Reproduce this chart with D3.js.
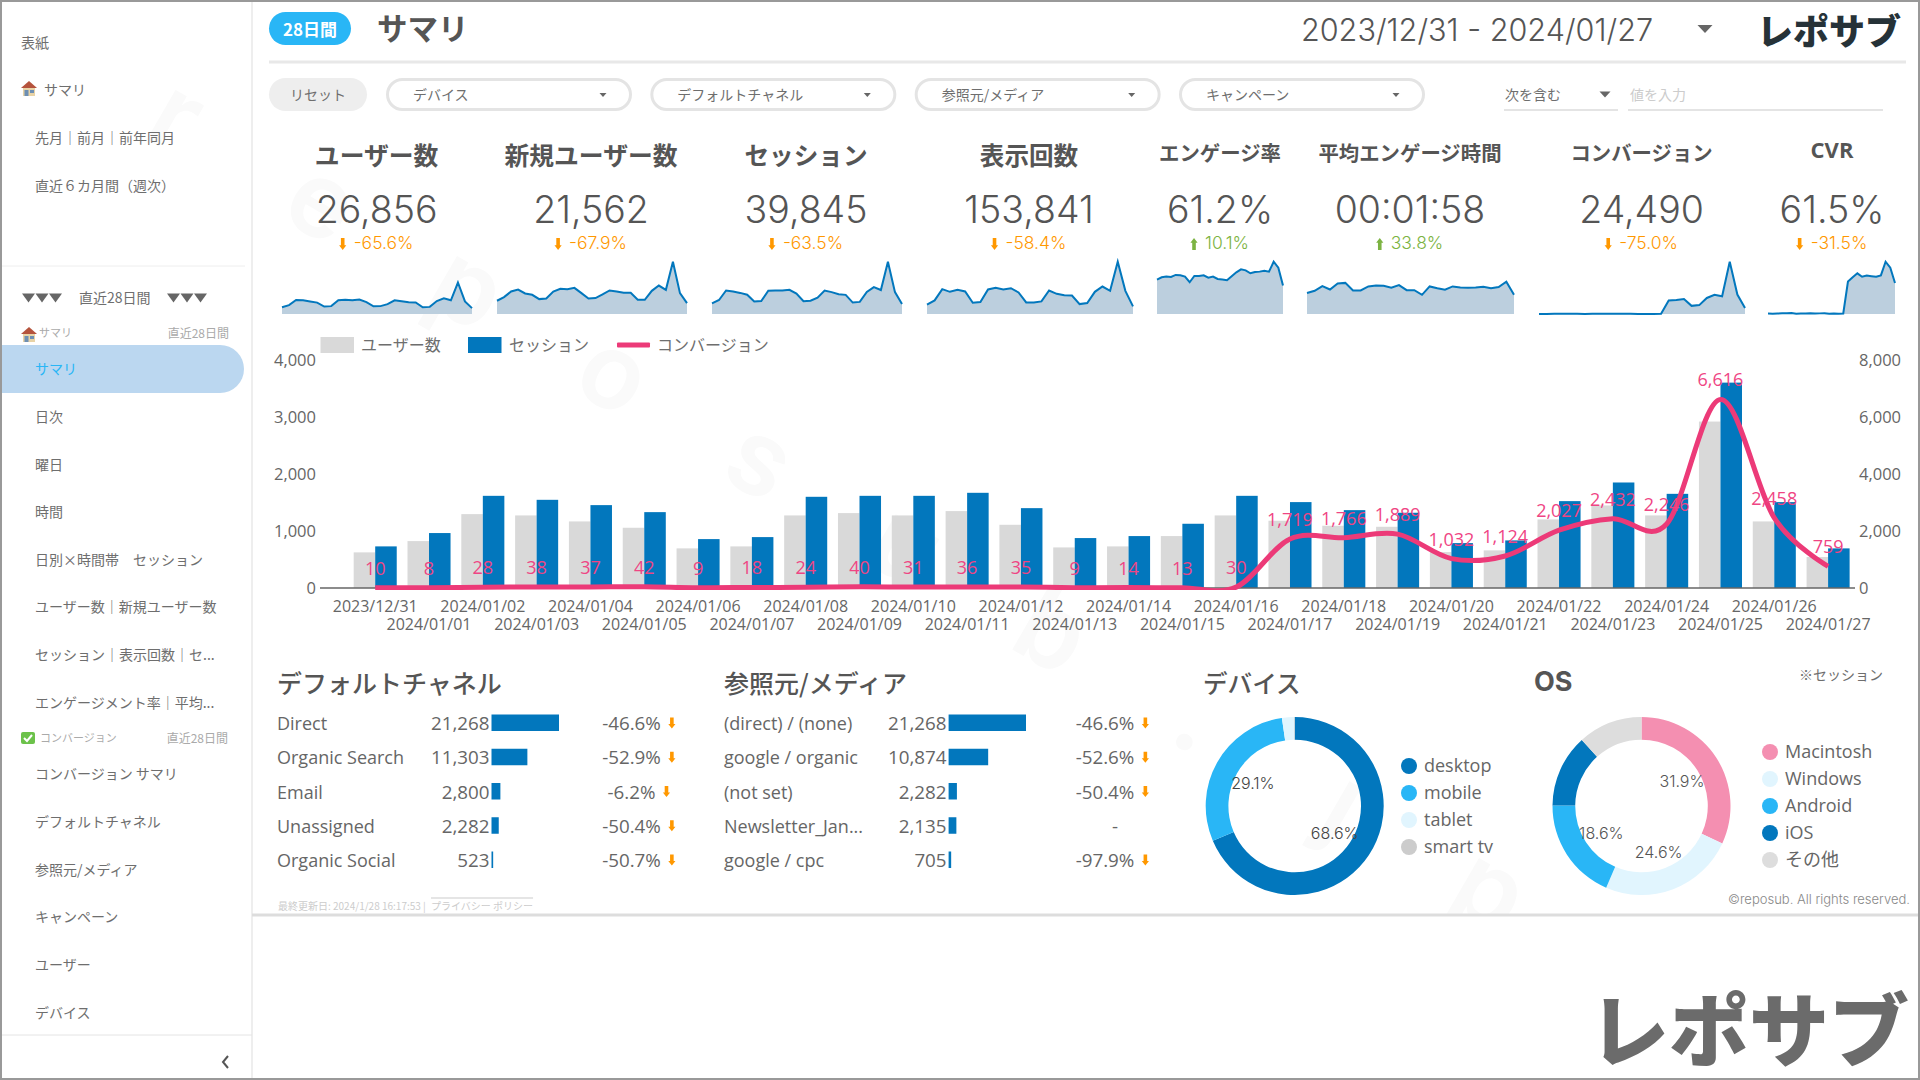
<!DOCTYPE html>
<html lang="ja">
<head>
<meta charset="utf-8">
<title>レポサブ サマリ</title>
<script src="https://cdn.jsdelivr.net/npm/d3@7.9.0/dist/d3.min.js"></script>
<style>
  html, body { margin: 0; padding: 0; background: #fff; overflow: hidden; }
  svg { display: block; }
  text { font-family: "Noto Sans CJK JP", "Noto Sans", sans-serif; fill: #6e6e6e; dominant-baseline: central; }
  .latin { font-family: "Open Sans", "Noto Sans CJK JP", sans-serif; fill: #666; }
  .light { font-family: Inter, "Noto Sans", sans-serif; font-weight: 300; }
</style>
</head>
<body>
<svg id="page" width="1920" height="1080"></svg>
<script>
// chart data
const dates = ['2023/12/31','2024/01/01','2024/01/02','2024/01/03','2024/01/04','2024/01/05','2024/01/06',
  '2024/01/07','2024/01/08','2024/01/09','2024/01/10','2024/01/11','2024/01/12','2024/01/13','2024/01/14',
  '2024/01/15','2024/01/16','2024/01/17','2024/01/18','2024/01/19','2024/01/20','2024/01/21','2024/01/22',
  '2024/01/23','2024/01/24','2024/01/25','2024/01/26','2024/01/27'];
const users = [625,823,1296,1273,1168,1057,695,730,1273,1314,1273,1349,1109,712,730,911,1273,1180,1092,1074,630,660,1203,1448,1273,2920,1168,543];
const sessions = [730,964,1617,1547,1454,1331,858,893,1600,1617,1617,1670,1401,876,911,1127,1617,1507,1366,1320,788,835,1524,1851,1652,3603,1507,695];
const conversions = [10,8,28,38,37,42,9,18,24,40,31,36,35,9,14,13,30,1719,1766,1889,1032,1124,2027,2432,2246,6616,2458,759];
const newUsers = [480,612,816,888,744,696,540,564,816,912,900,948,756,564,576,708,852,816,768,768,516,516,840,1032,876,1896,756,396];
const pageViews = [2565,3756,6870,6137,6687,6229,3114,3298,6778,7236,6778,7145,5954,3206,3206,3481,6504,5588,5221,5130,2748,3023,6137,7603,6412,14473,6412,2107];
const engagementRate = [54.1,57.7,58.8,58.2,61.4,60.8,58.8,49.9,59.8,59.8,60.8,57.2,58.8,55.1,54.1,53.0,59.3,65.5,70.2,68.6,64.0,66.0,66.6,68.1,66.6,82.2,72.8,44.7];
const engagementTime = [95,105,126,111,138,141,107,107,125,129,128,119,131,108,108,87,125,117,110,125,120,119,120,123,117,122,146,87];
const cvr = [1.4,0.8,1.7,2.5,2.5,3.2,1.0,2.0,1.5,2.5,1.9,2.2,2.5,1.0,1.5,1.2,1.9,114,129,143,131,135,133,131,136,184,163,109];

const kpiNames = ['ユーザー数','新規ユーザー数','セッション','表示回数','エンゲージ率','平均エンゲージ時間','コンバージョン','CVR'];
const kpiValues = ['26,856','21,562','39,845','153,841','61.2%','00:01:58','24,490','61.5%'];
const kpiDeltas = ['-65.6%','-67.9%','-63.5%','-58.4%','10.1%','33.8%','-75.0%','-31.5%'];
const kpiSeries = [users,newUsers,sessions,pageViews,engagementRate,engagementTime,conversions,cvr];

const channelNames = ['Direct','Organic Search','Email','Unassigned','Organic Social'];
const channelValues = [21268,11303,2800,2282,523];
const channelDeltas = ['-46.6%','-52.9%','-6.2%','-50.4%','-50.7%'];
const sourceNames = ['(direct) / (none)','google / organic','(not set)','Newsletter_Jan...','google / cpc'];
const sourceValues = [21268,10874,2282,2135,705];
const sourceDeltas = ['-46.6%','-52.6%','-50.4%','-','-97.9%'];

const deviceNames = ['desktop','mobile','tablet','smart tv'];
const deviceShares = [68.6,29.1,2.2,0.1];
const osNames = ['Macintosh','Windows','Android','iOS','その他'];
const osShares = [31.9,24.6,18.6,13.2,11.7];

const navTop = ['先月｜前月｜前年同月','直近６カ月間（週次）'];
const navSummary = ['日次','曜日','時間','日別×時間帯　セッション','ユーザー数｜新規ユーザー数','セッション｜表示回数｜セ...','エンゲージメント率｜平均...'];
const navConversion = ['コンバージョン サマリ','デフォルトチャネル','参照元/メディア','キャンペーン','ユーザー','デバイス'];
const filterNames = ['デバイス','デフォルトチャネル','参照元/メディア','キャンペーン'];
const watermark = 'reposub.jp'.split('');

// colours and layout, separate from the values
const BLUE = '#0277bd', SKY = '#29b6f6', PALE = '#e1f5fe', PINK = '#ec3a78';
const ORANGE = '#ff9800', GREEN = '#7cb342';
const kpiX = [376.6,591,806,1029,1220,1410,1641.6,1832];
const kpiSize = [24.8,24.8,24.6,24.6,20.4,20.4,20.4,22];
const kpiY = [155,155,155,155,153,153,153,149];
const sparkX = [[282,472],[497,687],[712,902],[927,1133],[1157,1283],[1307,1514],[1539,1745],[1768,1895]];
const sparkMax = [4850,1896,3603,14473,82.2,237,6616,184];
const deviceColors = [BLUE,SKY,PALE,'#ccc'];
const osColors = ['#f48fb1',PALE,SKY,BLUE,'#ddd'];

const svg = d3.select('#page');

// Japanese glyphs sit a pixel low with central baseline, so nudge them up
function addText(parent, x, y, str, size, opts = {}) {
  return parent.append('text')
    .attr('x', x).attr('y', opts.cls ? y : y - 1)
    .attr('class', opts.cls || null)
    .attr('text-anchor', opts.anchor || 'start')
    .style('font-size', size + 'px')
    .style('font-weight', opts.weight || null)
    .style('fill', opts.fill || null)
    .text(str);
}

function triangle(parent, cx, cy, w, h, fill) {
  parent.append('path')
    .attr('d', `M${cx - w / 2},${cy - h / 2}L${cx + w / 2},${cy - h / 2}L${cx},${cy + h / 2}Z`)
    .attr('fill', fill);
}

function arrow(parent, cx, cy, up, color, h = 12) {
  const dir = up ? -1 : 1;
  parent.append('path')
    .attr('d', `M${cx - 1.8},${cy - dir * h / 2}L${cx + 1.8},${cy - dir * h / 2}L${cx + 1.8},${cy + dir * h * 0.1}`
      + `L${cx + 3.6},${cy + dir * h * 0.1}L${cx},${cy + dir * h / 2}L${cx - 3.6},${cy + dir * h * 0.1}L${cx - 1.8},${cy + dir * h * 0.1}Z`)
    .attr('fill', color);
}

// arrow and text kept together and centred on cx
function deltaLabel(parent, cx, y, str, size, arrowAfter) {
  if (str === '-') { addText(parent, cx + 3, y, str, size, { anchor: 'middle', cls: 'latin' }); return; }
  const up = !str.startsWith('-');
  const color = up ? GREEN : ORANGE;
  const t = addText(parent, 0, y, str, size, { cls: arrowAfter ? 'latin' : 'light', fill: arrowAfter ? '#666' : color });
  const w = t.node().getComputedTextLength();
  const total = w + 14;
  if (arrowAfter) {
    t.attr('x', cx - total / 2);
    arrow(parent, cx + total / 2 - 3, y, up, color, 11);
  } else {
    t.attr('x', cx - total / 2 + 14);
    arrow(parent, cx - total / 2 + 3, y + 2, up, color, 12);
  }
}

function drawWatermark() {
  // the watermark stops at the bottom rule of the report
  svg.append('clipPath').attr('id', 'report-clip').append('rect').attr('width', 1920).attr('height', 914);
  const g = svg.append('g').attr('clip-path', 'url(#report-clip)');
  watermark.forEach((ch, i) => {
    const x = 178 + i * 146, y = 113 + i * 86;
    g.append('text')
      .attr('x', x).attr('y', y)
      .attr('transform', `rotate(30 ${x} ${y})`)
      .attr('text-anchor', 'middle')
      .style('font-size', '105px').style('font-weight', 600)
      .style('font-family', 'Inter, sans-serif').style('fill', '#fafafa')
      .text(ch);
  });
}

function drawHouse(parent, x, y) {
  parent.append('path').attr('d', `M${x},${y + 7}L${x + 8},${y}L${x + 16},${y + 7}Z`).attr('fill', '#b5533c');
  parent.append('rect').attr('x', x + 2).attr('y', y + 7).attr('width', 12).attr('height', 8).attr('fill', '#e8d3a6');
  parent.append('rect').attr('x', x + 3.5).attr('y', y + 9).attr('width', 4).attr('height', 6).attr('fill', '#6d8fb3');
  parent.append('rect').attr('x', x + 9).attr('y', y + 9).attr('width', 4).attr('height', 3).attr('fill', '#6d8fb3');
}

function drawSidebar() {
  const g = svg.append('g');
  g.append('line').attr('x1', 252).attr('x2', 252).attr('y1', 2).attr('y2', 1078).attr('stroke', '#eee').attr('stroke-width', 2);
  addText(g, 21, 43, '表紙', 14);
  drawHouse(g, 21, 81);
  addText(g, 44, 90, 'サマリ', 14);
  navTop.forEach((d, i) => addText(g, 35, 138 + i * 48, d, 14));
  g.append('line').attr('x1', 2).attr('x2', 245).attr('y1', 266).attr('y2', 266).attr('stroke', '#eee');
  [28.5, 42, 55.5, 173.5, 187, 200.5].forEach(x => triangle(g, x, 298, 13, 9, '#666'));
  addText(g, 79, 298, '直近28日間', 14);

  drawHouse(g, 21, 327);
  addText(g, 39, 333, 'サマリ', 11, { fill: '#aaa' });
  addText(g, 229, 333, '直近28日間', 12, { anchor: 'end', fill: '#aaa' });
  g.append('path').attr('d', 'M2,345H220A24,24 0 0 1 220,393H2Z').attr('fill', '#bbd7f0');
  addText(g, 35, 369, 'サマリ', 14, { fill: SKY });
  navSummary.forEach((d, i) => addText(g, 35, 417 + i * 47.6, d, 14));

  g.append('rect').attr('x', 21).attr('y', 732).attr('width', 14).attr('height', 12).attr('rx', 2).attr('fill', '#6cc24a');
  g.append('path').attr('d', 'M24,738L27,741L32,735').attr('fill', 'none').attr('stroke', '#fff').attr('stroke-width', 2);
  addText(g, 40, 738, 'コンバージョン', 11, { fill: '#aaa' });
  addText(g, 228, 738, '直近28日間', 12, { anchor: 'end', fill: '#aaa' });
  navConversion.forEach((d, i) => addText(g, 35, 774 + i * 47.8, d, 14));

  g.append('line').attr('x1', 2).attr('x2', 252).attr('y1', 1035).attr('y2', 1035).attr('stroke', '#e4e4e4');
  g.append('path').attr('d', 'M228,1056L223,1062L228,1068').attr('fill', 'none').attr('stroke', '#555').attr('stroke-width', 2);
}

function drawHeader() {
  const g = svg.append('g');
  g.append('rect').attr('x', 269).attr('y', 12).attr('width', 82).attr('height', 33).attr('rx', 16.5).attr('fill', SKY);
  addText(g, 310, 29.5, '28日間', 17, { anchor: 'middle', weight: 700, fill: '#fff' });
  addText(g, 377, 28, 'サマリ', 30.5, { weight: 700, fill: '#555' });
  addText(g, 1477, 29, '2023/12/31 - 2024/01/27', 30.6, { anchor: 'middle', cls: 'light', fill: '#555' });
  triangle(g, 1705, 29, 15, 8, '#666');
  addText(g, 1829, 30, 'レポサブ', 36, { anchor: 'middle', weight: 900, fill: '#263238' });
  g.append('rect').attr('x', 269).attr('y', 60.5).attr('width', 1637).attr('height', 3).attr('fill', '#e8e8e8');

  // filter row
  g.append('rect').attr('x', 269).attr('y', 78).attr('width', 98).attr('height', 33).attr('rx', 16.5).attr('fill', '#eee');
  addText(g, 318, 94.5, 'リセット', 14, { anchor: 'middle' });
  const filterLeft = d3.scaleLinear().domain([0, 3]).range([386, 1179]);
  filterNames.forEach((d, i) => {
    const x = filterLeft(i);
    g.append('rect').attr('x', x + 1.5).attr('y', 79.5).attr('width', 243).attr('height', 30).attr('rx', 15)
      .attr('fill', '#fff').attr('stroke', '#e4e4e4').attr('stroke-width', 3);
    addText(g, x + 27, 94.5, d, 14);
    triangle(g, x + 217, 95, 7, 4, '#666');
  });
  addText(g, 1505, 94.5, '次を含む', 14);
  triangle(g, 1605, 94.5, 11, 6, '#666');
  addText(g, 1630, 94.5, '値を入力', 14, { fill: '#ccc' });
  g.append('line').attr('x1', 1504).attr('x2', 1618).attr('y1', 110).attr('y2', 110).attr('stroke', '#e4e4e4').attr('stroke-width', 2);
  g.append('line').attr('x1', 1628).attr('x2', 1883).attr('y1', 110).attr('y2', 110).attr('stroke', '#e4e4e4').attr('stroke-width', 2);
}

function drawKpis() {
  kpiNames.forEach((name, i) => {
    const g = svg.append('g');
    addText(g, kpiX[i], kpiY[i] - 0.5, name, kpiSize[i], { anchor: 'middle', weight: 700, fill: '#555', cls: name === 'CVR' ? 'latin' : null });
    addText(g, kpiX[i], 209, kpiValues[i], 37.5, { anchor: 'middle', cls: 'light', fill: '#555' });
    deltaLabel(g, kpiX[i], 242, kpiDeltas[i], 17.5, false);

    const sx = d3.scaleLinear().domain([0, 27]).range(sparkX[i]);
    const sy = d3.scaleLinear().domain([0, sparkMax[i]]).range([314, 261.7]);
    const series = kpiSeries[i];
    g.append('path').attr('fill', '#bccfde')
      .attr('d', d3.area().x((d, j) => sx(j)).y0(sy(0)).y1(d => sy(d))(series));
    g.append('path').attr('fill', 'none').attr('stroke', BLUE).attr('stroke-width', 2)
      .attr('d', d3.line().x((d, j) => sx(j)).y(d => sy(d))(series));
  });
}

function drawCombo() {
  const g = svg.append('g');
  const x = d3.scaleBand().domain(dates).range([348.3, 1855]).paddingInner(0.2).paddingOuter(0.1);
  const inner = d3.scaleBand().domain(['users', 'sessions']).range([0, x.bandwidth()]);
  const yLeft = d3.scaleLinear().domain([0, 4000]).range([588, 360]);
  const yRight = d3.scaleLinear().domain([0, 8000]).range([588, 360]);
  const center = d => x(d) + x.bandwidth() / 2;

  // legend
  const legend = [['ユーザー数', '#d9d9d9', 320.5, 361], ['セッション', BLUE, 468, 509]];
  legend.forEach(([label, color, sx, tx]) => {
    g.append('rect').attr('x', sx).attr('y', 337).attr('width', 33.5).attr('height', 16).attr('fill', color);
    addText(g, tx, 345, label, 16);
  });
  g.append('rect').attr('x', 617).attr('y', 342.5).attr('width', 33).attr('height', 5).attr('rx', 1).attr('fill', PINK);
  addText(g, 657, 345, 'コンバージョン', 16);

  g.selectAll('.bar-users').data(dates).join('rect')
    .attr('class', 'bar-users').attr('x', d => x(d) + inner('users')).attr('width', inner.bandwidth())
    .attr('y', (d, i) => yLeft(users[i])).attr('height', (d, i) => yLeft(0) - yLeft(users[i])).attr('fill', '#d9d9d9');
  g.selectAll('.bar-sessions').data(dates).join('rect')
    .attr('class', 'bar-sessions').attr('x', d => x(d) + inner('sessions')).attr('width', inner.bandwidth())
    .attr('y', (d, i) => yLeft(sessions[i])).attr('height', (d, i) => yLeft(0) - yLeft(sessions[i])).attr('fill', BLUE);

  // axes
  const xAxis = g.append('g').attr('transform', 'translate(0,594)').call(d3.axisBottom(x).tickSize(0));
  xAxis.select('.domain').remove();
  xAxis.selectAll('text').attr('class', 'latin').style('font-size', '16px').style('fill', '#666')
    .attr('y', (d, i) => i % 2 ? 30 : 12).attr('dy', null);
  const left = g.append('g').attr('transform', 'translate(316,-1)').call(d3.axisLeft(yLeft).tickValues([0, 1000, 2000, 3000, 4000]).tickSize(0).tickPadding(0));
  const right = g.append('g').attr('transform', 'translate(1859,-1)').call(d3.axisRight(yRight).tickValues([0, 2000, 4000, 6000, 8000]).tickSize(0).tickPadding(0));
  [left, right].forEach(a => {
    a.select('.domain').remove();
    a.selectAll('text').attr('class', 'latin').style('font-size', '16.5px').style('fill', '#666').attr('dy', null);
  });
  g.append('line').attr('x1', 320).attr('x2', 1855).attr('y1', 588).attr('y2', 588).attr('stroke', '#666').attr('stroke-width', 1.5);

  // conversion line
  g.append('clipPath').attr('id', 'line-clip').append('rect').attr('x', 320).attr('y', 340).attr('width', 1540).attr('height', 250);
  g.append('path').attr('clip-path', 'url(#line-clip)')
    .attr('fill', 'none').attr('stroke', PINK).attr('stroke-width', 5).attr('stroke-linejoin', 'round')
    .attr('d', d3.line().x(d => center(d)).y((d, i) => yRight(conversions[i])).curve(d3.curveCardinal.tension(0))(dates));
  g.selectAll('.conv-label').data(dates).join('text')
    .attr('class', 'conv-label latin').attr('text-anchor', 'middle')
    .attr('x', d => center(d)).attr('y', (d, i) => yRight(conversions[i]) - 20)
    .style('font-size', '18px').style('fill', '#ef4584')
    .text((d, i) => d3.format(',')(conversions[i]));
}

function drawTable(title, names, values, deltas, pos) {
  const g = svg.append('g');
  addText(g, pos.nameX, 683, title, 25, { weight: 500, fill: '#555' });
  const rowY = d3.scalePoint().domain(d3.range(names.length)).range([723, 860]);
  const w = d3.scaleLinear().domain([0, d3.max(values)]).range([0, pos.barW]);
  names.forEach((name, i) => {
    const y = rowY(i);
    addText(g, pos.nameX, y, name, 18, { cls: 'latin' });
    addText(g, pos.numX, y, d3.format(',')(values[i]), 18.8, { cls: 'latin', anchor: 'end' });
    g.append('rect').attr('x', pos.numX + 2).attr('y', y - 8.5).attr('width', w(values[i])).attr('height', 16.5).attr('fill', BLUE);
    deltaLabel(g, pos.deltaX, y, deltas[i], 18.8, true);
  });
}

function drawDonut(names, shares, colors, pos) {
  const g = svg.append('g').attr('transform', `translate(${pos.cx},806)`);
  const arcs = d3.pie().value(d => d).sort(null)(shares);
  const arc = d3.arc().innerRadius(66.3).outerRadius(89);
  const labelArc = d3.arc().innerRadius(48).outerRadius(48);
  g.selectAll('path').data(arcs).join('path').attr('d', arc).attr('fill', (d, i) => colors[i]);
  arcs.filter(d => d.value > 15).forEach(d => {
    const [lx, ly] = labelArc.centroid(d);
    addText(g, lx, ly + 1, d.value.toFixed(1) + '%', 16, { anchor: 'middle', cls: 'light', fill: pos.labelFill });
  });
  const ly = d3.scaleLinear().domain([0, 1]).range([pos.legendY, pos.legendY + 27]);
  names.forEach((name, i) => {
    svg.append('circle').attr('cx', pos.dotX).attr('cy', ly(i)).attr('r', 8).attr('fill', colors[i]);
    addText(svg, pos.dotX + 15, ly(i) - 1, name, 18, { cls: 'latin' });
  });
}

function drawFooter() {
  const g = svg.append('g');
  addText(g, 278, 906, '最終更新日: 2024/1/28 16:17:53 |', 10, { fill: '#ccc' });
  addText(g, 431, 906, 'プライバシー ポリシー', 10, { fill: '#ccc' }).style('text-decoration', 'underline');
  g.append('rect').attr('x', 252).attr('y', 913.5).attr('width', 1666).attr('height', 3).attr('fill', '#ddd');
  addText(g, 1203, 683, 'デバイス', 24.6, { weight: 500, fill: '#555' });
  g.append('text').attr('x', 1534).attr('y', 681)
    .style('font-family', 'Inter, sans-serif').style('font-size', '27px').style('font-weight', 700).style('fill', '#555').text('OS');
  addText(g, 1799, 675, '※セッション', 14);
  addText(g, 1910, 899, '©reposub. All rights reserved.', 13, { anchor: 'end', cls: 'light', fill: '#888' });
  addText(g, 1749, 1026, 'レポサブ', 80, { anchor: 'middle', weight: 900, fill: '#6b6b6b' });
}

drawWatermark();
drawSidebar();
drawHeader();
drawKpis();
drawCombo();
drawTable('デフォルトチャネル', channelNames, channelValues, channelDeltas, { nameX: 277, numX: 489.5, barW: 67.5, deltaX: 638.5 });
drawTable('参照元/メディア', sourceNames, sourceValues, sourceDeltas, { nameX: 724, numX: 946.6, barW: 77.4, deltaX: 1112 });
drawDonut(deviceNames, deviceShares, deviceColors, { cx: 1294.7, dotX: 1409, legendY: 766, labelFill: '#444' });
drawDonut(osNames, osShares, osColors, { cx: 1641.5, dotX: 1770, legendY: 752, labelFill: '#555' });
drawFooter();

// outer frame
svg.append('rect').attr('x', 1).attr('y', 1).attr('width', 1918).attr('height', 1078)
  .attr('fill', 'none').attr('stroke', '#999').attr('stroke-width', 2);
</script>
</body>
</html>
